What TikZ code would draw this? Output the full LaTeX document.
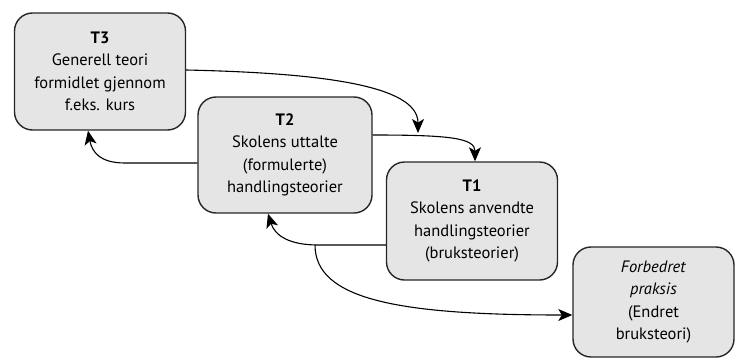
\documentclass[tikz,border=0pt]{standalone}
\usepackage{fontspec}
\setmainfont{PT Sans}
\usetikzlibrary{arrows.meta}
\begin{document}
\begin{tikzpicture}[x=1pt,y=-1pt,
  box/.style={draw=black!85, line width=1.4pt, rounded corners=18pt, fill=black!10,
    align=center, inner sep=0pt, font=\fontsize{16.5}{22.5}\selectfont},
  conn/.style={line width=1.1pt, -{Stealth[length=14pt,width=12pt,inset=3.5pt]}}]
\useasboundingbox (0,0) rectangle (736,359);
\node[box, minimum width=171pt, minimum height=117pt] (t3) at (100,71.5)
  {\textbf{T3}\\Generell teori\\formidlet gjennom\\f.eks. kurs};
\node[box, minimum width=174pt, minimum height=116pt] (t2) at (285,155)
  {\textbf{T2}\\Skolens uttalte\\(formulerte)\\handlingsteorier};
\node[box, minimum width=171pt, minimum height=118pt] (t1) at (472,221)
  {\textbf{T1}\\Skolens anvendte\\handlingsteorier\\(bruksteorier)};
\node[box, minimum width=161pt, minimum height=110pt] (fp) at (653.5,302)
  {\textit{Forbedret}\\\textit{praksis}\\(Endret\\bruksteori)};
\coordinate (a1) at (418,133);
\coordinate (br) at (315,245);
% T3 -> down
\draw[conn] (t3.east |- 0,70) .. controls (320,73) and (418,85) .. (a1);
% T2 -> T1
\draw[conn] (t2.east |- 0,135) .. controls (450,135) and (475,138) .. (t1.north -| 475,0);
% T1 -> T2
\draw[conn] (t1.west |- 0,245) -- (br) -- (318,245) .. controls (290,245) and (275,236) .. (t2.south -| 268,0);
% T2 -> T3
\draw[conn] (t2.west |- 0,163) -- (125,163) .. controls (100,163) and (92,152) .. (t3.south -| 88,0);
% branch -> Forbedret praksis
\draw[conn] (br) .. controls (315,300) and (400,315) .. (fp.west |- 0,315);
\end{tikzpicture}
\end{document}
